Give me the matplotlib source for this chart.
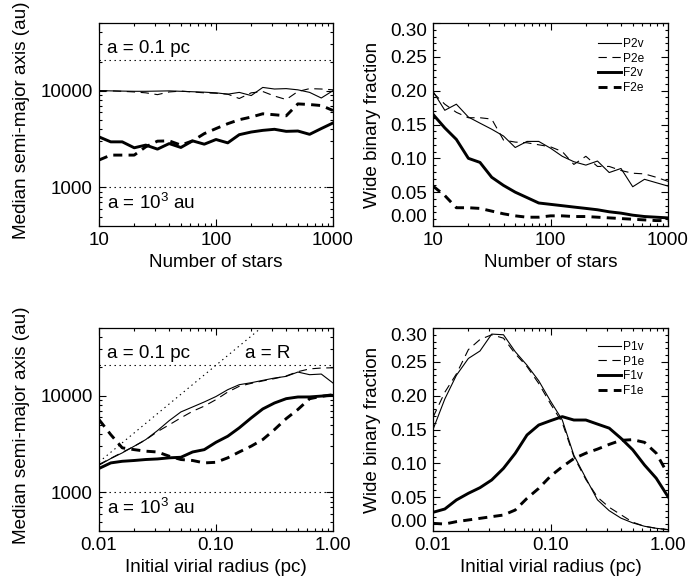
import matplotlib
matplotlib.use("Agg")
import matplotlib.pyplot as plt
from matplotlib.ticker import FixedLocator, LogLocator, NullFormatter, MultipleLocator, FixedFormatter

plt.rcParams['font.family'] = ['Liberation Sans', 'DejaVu Sans']
plt.rcParams['mathtext.fontset'] = 'custom'
plt.rcParams['mathtext.rm'] = 'Liberation Sans'
plt.rcParams['mathtext.default'] = 'regular'
plt.rcParams['lines.scale_dashes'] = False

# ---------------- data ----------------
n_stars = [10, 12.6, 15.8, 20, 25.1, 31.6, 39.8, 50.1, 63.1, 79.4, 100,
           126, 158, 200, 251, 316, 398, 501, 631, 794, 1000]
radius = [0.01, 0.0126, 0.0158, 0.02, 0.0251, 0.0316, 0.0398, 0.0501, 0.0631, 0.0794, 0.1,
          0.126, 0.158, 0.2, 0.251, 0.316, 0.398, 0.501, 0.631, 0.794, 1.0]

# top-left: median semi-major axis vs N
P2v_a = [10000, 9950, 9900, 9850, 9850, 9900, 9950, 9850, 9750, 9650, 9500,
         9200, 9600, 8900, 10800, 10400, 10500, 10200, 9600, 8400, 10000]
P2e_a = [10000, 9950, 9850, 9700, 9500, 9100, 9700, 9900, 9700, 9500, 9400,
         9200, 8300, 9500, 9800, 8800, 8100, 9800, 10500, 10400, 10200]
F2v_a = [3330, 2960, 2960, 2570, 2740, 2490, 2840, 2590, 3030, 2800, 3130,
         2890, 3510, 3740, 3890, 3990, 3800, 3830, 3540, 4060, 4640]
F2e_a = [1920, 2160, 2160, 2160, 2630, 3010, 3030, 2740, 3030, 3600, 4060,
         4560, 5010, 5340, 5770, 5640, 5500, 7300, 7190, 7020, 6240]

# top-right: wide binary fraction vs N
P2v_f = [0.199, 0.171, 0.180, 0.161, 0.152, 0.143, 0.133, 0.116, 0.125, 0.125, 0.115,
         0.103, 0.095, 0.090, 0.096, 0.079, 0.085, 0.058, 0.069, 0.064, 0.059]
P2e_f = [0.197, 0.180, 0.168, 0.160, 0.160, 0.158, 0.127, 0.124, 0.123, 0.120, 0.117,
         0.110, 0.091, 0.103, 0.088, 0.088, 0.082, 0.078, 0.077, 0.072, 0.066]
F2v_f = [0.165, 0.145, 0.128, 0.100, 0.094, 0.072, 0.060, 0.050, 0.042, 0.034, 0.032,
         0.030, 0.028, 0.026, 0.024, 0.021, 0.019, 0.016, 0.014, 0.013, 0.012]
F2e_f = [0.059, 0.045, 0.027, 0.027, 0.026, 0.022, 0.018, 0.015, 0.013, 0.013, 0.015,
         0.015, 0.014, 0.014, 0.013, 0.012, 0.011, 0.010, 0.009, 0.008, 0.008]

# bottom-left: median semi-major axis vs R
P1v_a = [1914, 2240, 2564, 3006, 3518, 4355, 5520, 6790, 7645, 8610, 9800,
         11530, 12980, 13610, 14390, 15210, 15820, 17530, 16470, 16720, 13510]
P1e_a = [1950, 2250, 2600, 3000, 3500, 4250, 5000, 5900, 6900, 7800, 9100,
         10900, 12500, 13400, 14200, 15000, 16000, 17700, 18900, 19300, 19400]
F1v_a = [1770, 2020, 2100, 2140, 2190, 2220, 2280, 2310, 2620, 2770, 3300,
         3810, 4650, 5890, 7290, 8400, 9310, 9690, 9700, 9900, 10080]
F1e_a = [5660, 3960, 2890, 2770, 2670, 2620, 2370, 2190, 2140, 2020, 2050,
         2280, 2620, 3010, 3520, 4460, 5790, 7200, 9300, 9840, 10240]

# bottom-right: wide binary fraction vs R
P1v_f = [0.150, 0.195, 0.230, 0.255, 0.266, 0.291, 0.290, 0.265, 0.245, 0.222, 0.192,
         0.164, 0.112, 0.078, 0.046, 0.030, 0.019, 0.012, 0.007, 0.004, 0.002]
P1e_f = [0.168, 0.205, 0.232, 0.268, 0.283, 0.290, 0.285, 0.262, 0.243, 0.218, 0.188,
         0.160, 0.110, 0.076, 0.050, 0.035, 0.024, 0.013, 0.007, 0.004, 0.002]
F1v_f = [0.0276, 0.0325, 0.0458, 0.0557, 0.064, 0.0754, 0.0926, 0.1148, 0.1419, 0.1566, 0.163,
         0.169, 0.164, 0.164, 0.158, 0.152, 0.137, 0.120, 0.0975, 0.078, 0.0507]
F1e_f = [0.0113, 0.0103, 0.0138, 0.0163, 0.0187, 0.0212, 0.0236, 0.031, 0.0483, 0.063, 0.081,
         0.095, 0.107, 0.115, 0.121, 0.128, 0.134, 0.135, 0.131, 0.115, 0.0837]

PC_AU = 206265.0
a_limits = [1000, 0.1 * PC_AU]
aR_radius = [0.01, 0.3]

frac_ticks = [0.00, 0.05, 0.10, 0.15, 0.20, 0.25, 0.30]
frac_labels = ['0.00', '0.05', '0.10', '0.15', '0.20', '0.25', '0.30']

# ---------------- styles ----------------
FS = 13.6
THIN = 0.8
THICK = 2.1
thin_solid = dict(color='black', lw=THIN, ls='-')
thin_dash = dict(color='black', lw=THIN, ls=(0, (6, 4)))
thick_solid = dict(color='black', lw=THICK, ls='-')
thick_dash = dict(color='black', lw=THICK, ls=(0, (6.5, 4.5)))
dotted = dict(color='black', lw=0.8, ls=(0, (1, 2.6)))

W, H = 689, 581
fig = plt.figure(figsize=(W / 100, H / 100), dpi=100)


def make_ax(l, t, w, h):
    return fig.add_axes([l / W, 1 - (t + h) / H, w / W, h / H])


ax1 = make_ax(99, 23, 234, 203)
ax2 = make_ax(433, 23, 235, 203)
ax3 = make_ax(99, 328, 234, 203)
ax4 = make_ax(433, 328, 235, 203)


def style(ax):
    for s in ax.spines.values():
        s.set_linewidth(0.9)
    ax.tick_params(which='both', direction='in', top=True, right=True,
                   labelsize=FS, width=0.8)
    ax.tick_params(which='major', length=5, pad=4.5)
    ax.tick_params(which='minor', length=2.5)


def semi_axis_panel(ax):
    ax.set_yscale('log')
    ax.set_ylim(400, 50000)
    ax.yaxis.set_major_locator(FixedLocator([1000, 10000]))
    ax.yaxis.set_major_formatter(FixedFormatter(['1000', '10000']))
    ax.yaxis.set_minor_locator(LogLocator(base=10, subs=range(2, 10)))
    ax.yaxis.set_minor_formatter(NullFormatter())
    ax.set_ylabel('Median semi-major axis (au)', fontsize=FS)
    ax.yaxis.set_label_coords(-0.295, 0.52)
    for v in a_limits:
        ax.axhline(v, **dotted)
    ax.text(0.034, 0.854, 'a = 0.1 pc', transform=ax.transAxes, fontsize=FS, va='baseline')
    ax.text(0.034, 0.082, r'a = $10^{3}$ au', transform=ax.transAxes, fontsize=FS, va='baseline')


def frac_panel(ax):
    ax.set_ylim(0, 0.30)
    ax.yaxis.set_major_locator(FixedLocator(frac_ticks))
    ax.yaxis.set_major_formatter(FixedFormatter(frac_labels))
    ax.yaxis.set_minor_locator(MultipleLocator(0.01))
    ax.set_ylabel('Wide binary fraction', fontsize=FS)
    ax.yaxis.set_label_coords(-0.221, 0.5)


def n_axis(ax):
    ax.set_xscale('log')
    ax.set_xlim(10, 1000)
    ax.xaxis.set_major_locator(FixedLocator([10, 100, 1000]))
    ax.xaxis.set_major_formatter(FixedFormatter(['10', '100', '1000']))
    ax.xaxis.set_minor_locator(LogLocator(base=10, subs=range(2, 10)))
    ax.xaxis.set_minor_formatter(NullFormatter())
    ax.set_xlabel('Number of stars', fontsize=FS)
    ax.xaxis.set_label_coords(0.5, -0.14)


def r_axis(ax):
    ax.set_xscale('log')
    ax.set_xlim(0.01, 1.0)
    ax.xaxis.set_major_locator(FixedLocator([0.01, 0.1, 1.0]))
    ax.xaxis.set_major_formatter(FixedFormatter(['0.01', '0.10', '1.00']))
    ax.xaxis.set_minor_locator(LogLocator(base=10, subs=range(2, 10)))
    ax.xaxis.set_minor_formatter(NullFormatter())
    ax.set_xlabel('Initial virial radius (pc)', fontsize=FS)
    ax.xaxis.set_label_coords(0.5, -0.14)


# top-left
semi_axis_panel(ax1)
n_axis(ax1)
ax1.plot(n_stars, P2v_a, **thin_solid)
ax1.plot(n_stars, P2e_a, **thin_dash)
ax1.plot(n_stars, F2v_a, **thick_solid)
ax1.plot(n_stars, F2e_a, **thick_dash)

# top-right
frac_panel(ax2)
n_axis(ax2)
ax2.plot(n_stars, P2v_f, label='P2v', **thin_solid)
ax2.plot(n_stars, P2e_f, label='P2e', **thin_dash)
ax2.plot(n_stars, F2v_f, label='F2v', **thick_solid)
ax2.plot(n_stars, F2e_f, label='F2e', **thick_dash)

# bottom-left
semi_axis_panel(ax3)
r_axis(ax3)
ax3.plot(aR_radius, [r * PC_AU for r in aR_radius], **dotted)
ax3.text(0.624, 0.854, 'a = R', transform=ax3.transAxes, fontsize=FS, va='baseline')
ax3.plot(radius, P1v_a, **thin_solid)
ax3.plot(radius, P1e_a, **thin_dash)
ax3.plot(radius, F1v_a, **thick_solid)
ax3.plot(radius, F1e_a, **thick_dash)

# bottom-right
frac_panel(ax4)
r_axis(ax4)
ax4.plot(radius, P1v_f, label='P1v', **thin_solid)
ax4.plot(radius, P1e_f, label='P1e', **thin_dash)
ax4.plot(radius, F1v_f, label='F1v', **thick_solid)
ax4.plot(radius, F1e_f, label='F1e', **thick_dash)

for ax in (ax1, ax2, ax3, ax4):
    style(ax)

for ax, top in ((ax2, 15), (ax4, 13)):
    ax.legend(loc='upper right', bbox_to_anchor=(1 - 24 / 235, 1 - top / 203),
              borderaxespad=0, borderpad=0, frameon=False, fontsize=8.6,
              handlelength=1.9, handletextpad=0.15, labelspacing=0.22)

fig.canvas.draw()
for ax in (ax2, ax4):
    ticks = ax.yaxis.get_major_ticks()
    ticks[0].label1.set_verticalalignment('bottom')
    ticks[-1].label1.set_verticalalignment('top')

fig.savefig('out.png', dpi=100)
